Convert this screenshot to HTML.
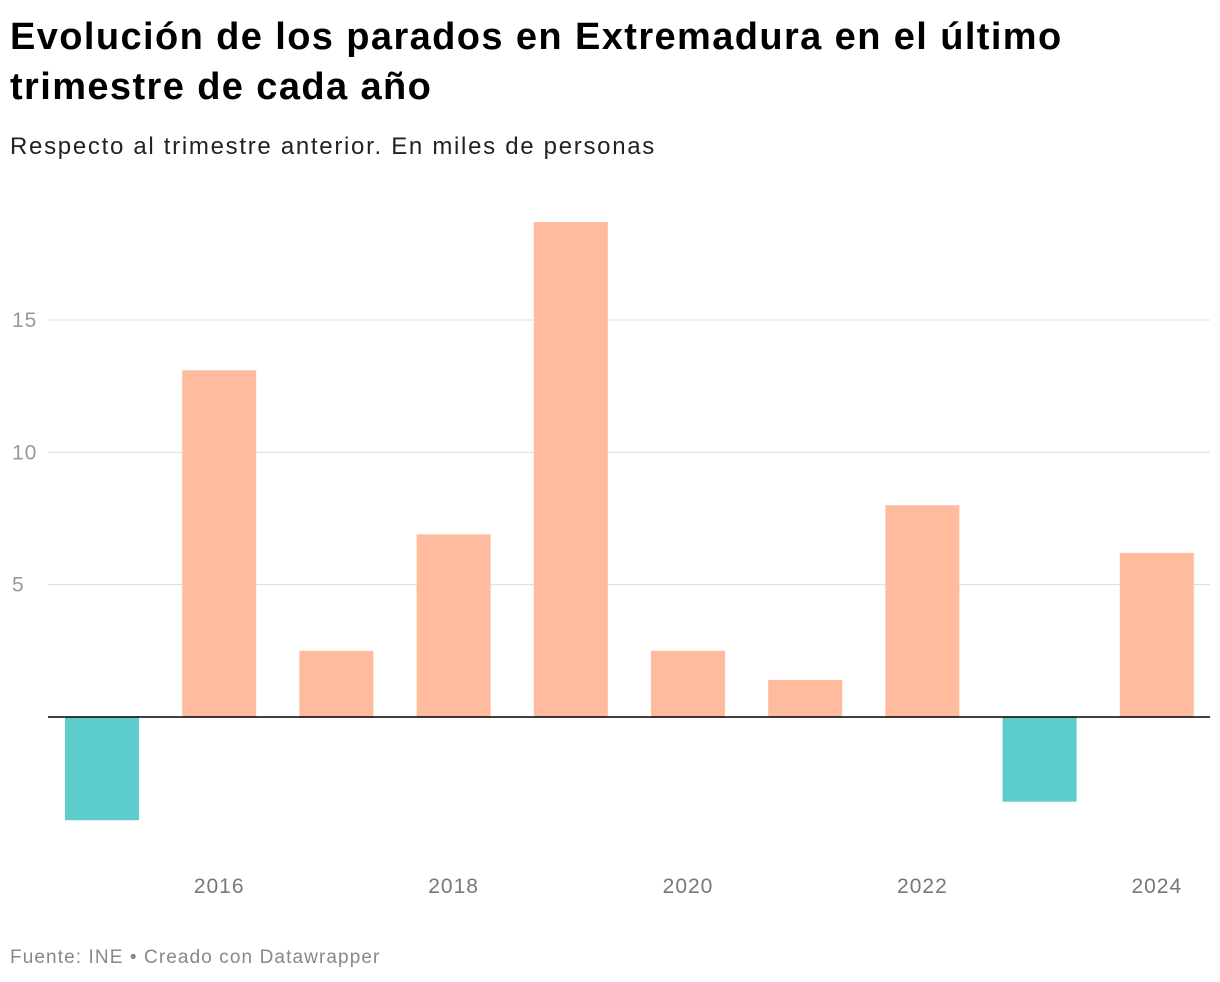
<!DOCTYPE html>
<html><head><meta charset="utf-8"><style>
body{margin:0;background:#fff;font-family:"Liberation Sans",sans-serif;width:1220px;height:982px;overflow:hidden;position:relative}
h1{position:absolute;left:10px;top:12px;margin:0;font-size:38px;line-height:50px;font-weight:bold;color:#000;letter-spacing:1.4px;white-space:nowrap}
.sub{position:absolute;left:10px;top:133px;font-size:24px;color:#222;letter-spacing:1.7px;white-space:nowrap}
.foot{position:absolute;left:10px;top:947px;font-size:19px;color:#888;letter-spacing:1.1px;white-space:nowrap}
svg{position:absolute;left:0;top:0}
</style></head><body>
<h1>Evolución de los parados en Extremadura en el último<br>trimestre de cada año</h1>
<div class="sub">Respecto al trimestre anterior. En miles de personas</div>
<svg id="chart" width="1220" height="982"></svg>
<div class="foot">Fuente: INE • Creado con Datawrapper</div>
<script>
const years=[2015,2016,2017,2018,2019,2020,2021,2022,2023,2024];
const values=[-3.9,13.1,2.5,6.9,18.7,2.5,1.4,8.0,-3.2,6.2];
const yTicks=[5,10,15];
const xLabels=[2016,2018,2020,2022,2024];
const svg=document.getElementById('chart');
const NS='http://www.w3.org/2000/svg';
const y=v=>717-v*26.47;
const x=yr=>102+(yr-2015)*117.2;
function mk(t,a){const e=document.createElementNS(NS,t);for(const k in a)e.setAttribute(k,a[k]);svg.appendChild(e);return e;}
yTicks.forEach(t=>{
 const l=mk('line',{x1:48,x2:1210,y1:y(t),y2:y(t),stroke:'#ddd','stroke-width':1});
 
 
 const tx=mk('text',{x:12,y:y(t)+7,'font-size':21,fill:'#999','font-family':'Liberation Sans','letter-spacing':1});
 tx.textContent=t;
 
 
});
years.forEach((yr,i)=>{
 const v=values[i];
 const r=mk('rect',{x:x(yr)-37,width:74,y:Math.min(y(0),y(v)),height:Math.abs(y(v)-y(0)),fill:v<0?'#5ccccc':'#ffbb9d'});
 
 
});
const base=mk('line',{x1:48,x2:1210,y1:y(0),y2:y(0),stroke:'#000','stroke-width':1.5});


xLabels.forEach(yr=>{
 const t=mk('text',{x:x(yr),y:893,'font-size':21,fill:'#777','text-anchor':'middle','font-family':'Liberation Sans','letter-spacing':1});
 t.textContent=yr;
 
 
});
</script>
</body></html>
